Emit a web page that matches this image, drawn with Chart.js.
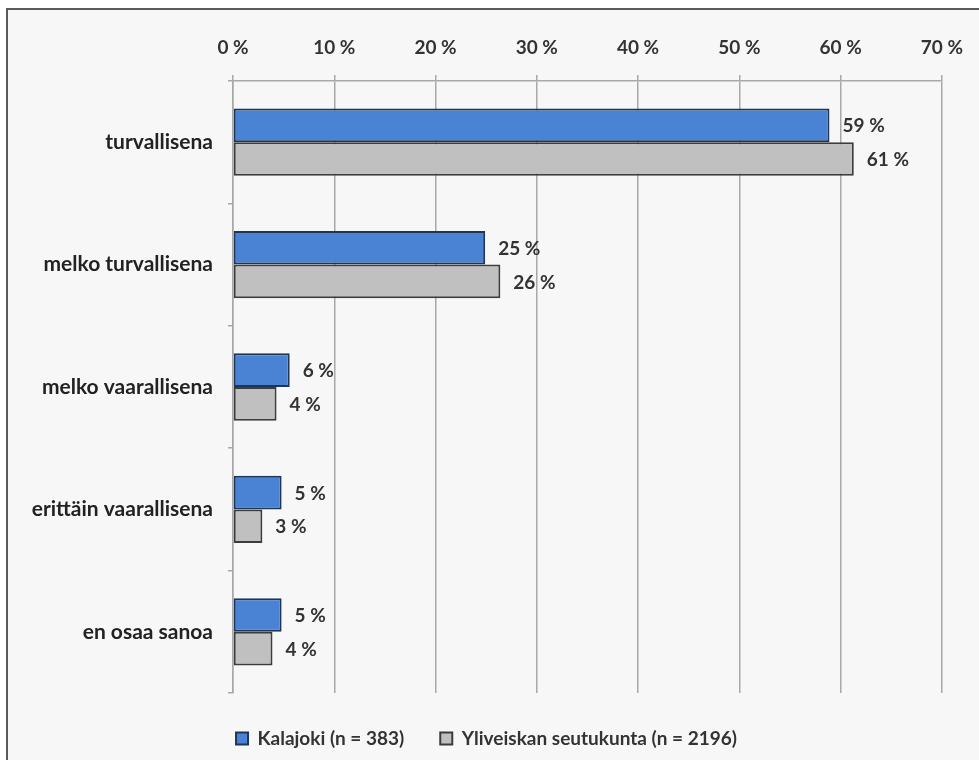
<!DOCTYPE html>
<html>
<head>
<meta charset="utf-8">
<script src="https://cdn.jsdelivr.net/npm/chart.js@4.4.1/dist/chart.umd.min.js"></script>
<style>
  html, body { margin: 0; padding: 0; background: #fff; }
  #frame {
    position: absolute; left: 6px; top: 8px; width: 1000px; height: 800px;
    border: 2px solid #5a5a5a; background: #f7f7f7;
  }
  #wrap { position: absolute; left: 0; top: 0; width: 979px; height: 760px; }
</style>
</head>
<body>
<div id="frame"></div>
<div id="wrap"><canvas id="chart" width="979" height="760"></canvas></div>
<script>
/* ---------- DATA ---------- */
const categories = [
  "turvallisena",
  "melko turvallisena",
  "melko vaarallisena",
  "erittäin vaarallisena",
  "en osaa sanoa"
];
const kalajoki = [58.9, 24.9, 5.6, 4.8, 4.8];
const yliveiska = [61.3, 26.4, 4.3, 2.9, 3.9];
const seriesNames = ["Kalajoki (n = 383)", "Yliveiskan seutukunta (n = 2196)"];
const xTicks = [0, 10, 20, 30, 40, 50, 60, 70];

const FONT = "Lato, 'Open Sans', sans-serif";

/* ---------- VALUE LABELS ---------- */
const valueLabels = {
  id: "valueLabels",
  afterDatasetsDraw(chart) {
    const ctx = chart.ctx;
    ctx.save();
    ctx.font = "bold 19px " + FONT;
    ctx.fillStyle = "#333";
    ctx.textAlign = "left";
    ctx.textBaseline = "middle";
    chart.data.datasets.forEach((ds, i) => {
      chart.getDatasetMeta(i).data.forEach((bar, j) => {
        ctx.fillText(Math.round(ds.data[j]) + " %", bar.x + 13, bar.y + 1);
      });
    });
    ctx.restore();
  }
};

/* ---------- CHART ---------- */
new Chart(document.getElementById("chart"), {
  type: "bar",
  data: {
    labels: categories,
    datasets: [
      {
        label: seriesNames[0],
        data: kalajoki,
        backgroundColor: "#4a83d4",
        borderColor: "#1f3556",
        borderWidth: 2,
        borderSkipped: false
      },
      {
        label: seriesNames[1],
        data: yliveiska,
        backgroundColor: "#c0c0c0",
        borderColor: "#3c3c3c",
        borderWidth: 2,
        borderSkipped: false
      }
    ]
  },
  options: {
    indexAxis: "y",
    responsive: false,
    animation: false,
    categoryPercentage: 0.55,
    barPercentage: 1.0,
    layout: { padding: { left: 0, right: 6, top: 0, bottom: 2 } },
    plugins: {
      legend: {
        position: "bottom",
        labels: {
          font: { family: FONT, size: 19, weight: "bold" },
          color: "#333",
          boxWidth: 12,
          boxHeight: 12,
          padding: 36
        }
      },
      tooltip: { enabled: false }
    },
    scales: {
      x: {
        position: "top",
        min: 0,
        max: 70,
        afterBuildTicks: s => { s.ticks = xTicks.map(v => ({ value: v })); },
        afterFit: s => { s.height = 81; },
        ticks: {
          callback: v => v + " %",
          font: { family: FONT, size: 19, weight: "bold" },
          color: "#333",
          padding: 16,
          maxRotation: 0
        },
        grid: { color: "#a8a8a8", lineWidth: 1.5, tickLength: 6 },
        border: { color: "#a8a8a8", width: 1.5 }
      },
      y: {
        afterFit: s => { s.width = 233; },
        ticks: {
          font: { family: FONT, size: 21, weight: "bold" },
          color: "#222",
          padding: 15
        },
        grid: { drawOnChartArea: false, color: "#a8a8a8", tickLength: 5, lineWidth: 1.5 },
        border: { color: "#a8a8a8", width: 1.5 }
      }
    }
  },
  plugins: [valueLabels]
});
</script>
</body>
</html>
